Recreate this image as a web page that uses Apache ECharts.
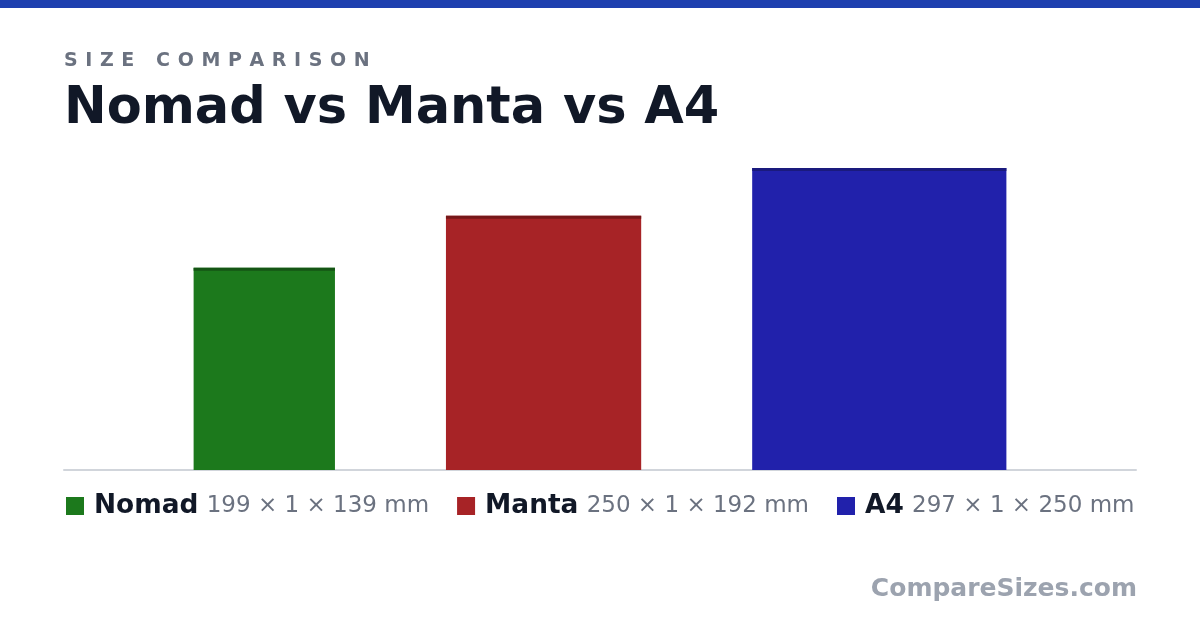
<!DOCTYPE html>
<html><head><meta charset="utf-8">
<script src="https://cdn.jsdelivr.net/npm/echarts@6/dist/echarts.min.js"></script>
<style>html,body{margin:0;padding:0;background:#fff}#c{width:1200px;height:630px}</style>
</head><body><div id="c"></div>
<script>
// Data
const names = ['Nomad', 'Manta', 'A4'];
const dimA = [199, 250, 297];   // first dimension (mm) -> bar height
const dimB = [1, 1, 1];         // second dimension (mm)
const dimC = [139, 192, 250];   // third dimension (mm) -> bar width
const colors = ['#1c791c', '#a72326', '#2121ab'];
const topColors = ['#145514', '#761819', '#1a1a7d'];

// Layout
const W = 1200, H = 630;
const gridL = 64, gridR = 64, gridT = 168, gridB = 160;
const gapPx = 111;
const gridW = W - gridL - gridR, gridH = H - gridT - gridB;
const yMax = Math.max(...dimA);
const pxPerMm = gridH / yMax;
const xMax = gridW / pxPerMm;
const gapMm = gapPx / pxPerMm;
const totalMm = dimC.reduce((a, b) => a + b, 0) + gapMm * (names.length - 1);
let cursor = (xMax - totalMm) / 2;
const starts = dimC.map(w => { const s = cursor; cursor += w + gapMm; return s; });

const chart = echarts.init(document.getElementById('c'), null, {renderer: 'canvas'});

// letter-spaced subtitle
const ctx = document.createElement('canvas').getContext('2d');
const subFont = 'bold 19px "DejaVu Sans"';
ctx.font = subFont;
const subText = 'SIZE COMPARISON';
const spacing = 7.6;
const subEls = [];
let sx = 64;
for (const ch of subText) {
  if (ch !== ' ') subEls.push({type: 'text', x: sx, y: 61, style: {text: ch, font: subFont, fill: '#6b7280', verticalAlign: 'middle', align: 'left'}});
  sx += ctx.measureText(ch).width + spacing;
}

const series = names.map((n, i) => ({
  type: 'custom',
  name: n,
  itemStyle: {color: colors[i]},
  data: [[starts[i], dimC[i], dimA[i]]],
  renderItem: (params, api) => {
    const x0 = api.value(0), w = api.value(1), h = api.value(2);
    const p0 = api.coord([x0, h]);
    const p1 = api.coord([x0 + w, 0]);
    return {
      type: 'group',
      children: [
        {type: 'rect', shape: {x: p0[0], y: p0[1], width: p1[0] - p0[0], height: p1[1] - p0[1]}, style: {fill: colors[i]}},
        {type: 'rect', shape: {x: p0[0], y: p0[1], width: p1[0] - p0[0], height: 3}, style: {fill: topColors[i]}}
      ]
    };
  }
}));

const dimsText = names.map((n, i) => `${dimA[i]} × ${dimB[i]} × ${dimC[i]} mm`);

chart.setOption({
  animation: false,
  backgroundColor: '#ffffff',
  grid: {left: gridL, right: gridR, top: gridT, bottom: gridB},
  xAxis: {type: 'value', min: 0, max: xMax, splitLine: {show: false}, axisTick: {show: false}, axisLabel: {show: false},
    axisLine: {show: true, onZero: false, lineStyle: {color: '#d1d5db', width: 2}}},
  yAxis: {type: 'value', min: 0, max: yMax, splitLine: {show: false}, axisTick: {show: false}, axisLabel: {show: false}, axisLine: {show: false}},
  legend: {
    left: 66, top: 493, padding: 0, itemGap: 28, itemWidth: 18, itemHeight: 18, icon: 'rect',
    selectedMode: false,
    data: names,
    formatter: (name) => {
      const i = names.indexOf(name);
      return `{sp|}{name|${name}}{dims| ${dimsText[i]}}`;
    },
    textStyle: {
      rich: {
        sp: {width: 5, lineHeight: 30},
        name: {fontFamily: 'DejaVu Sans', fontWeight: 'bold', fontSize: 26.4, color: '#111827', lineHeight: 30},
        dims: {fontFamily: 'DejaVu Sans', fontSize: 23, color: '#6b7280', lineHeight: 30, padding: [0, 0, 0, 1]}
      }
    }
  },
  graphic: [
    {type: 'rect', shape: {x: 0, y: 0, width: W, height: 8}, style: {fill: '#1e40af'}},
    ...subEls,
    {type: 'text', x: 64, y: 110, style: {text: 'Nomad vs Manta vs A4', font: 'bold 51px "DejaVu Sans"', fill: '#111827', verticalAlign: 'middle', align: 'left'}},
    {type: 'text', x: 1137, y: 589.5, style: {text: 'CompareSizes.com', font: 'bold 25px "DejaVu Sans"', fill: '#9ca3af', verticalAlign: 'middle', align: 'right'}}
  ],
  series: series
});
</script></body></html>
